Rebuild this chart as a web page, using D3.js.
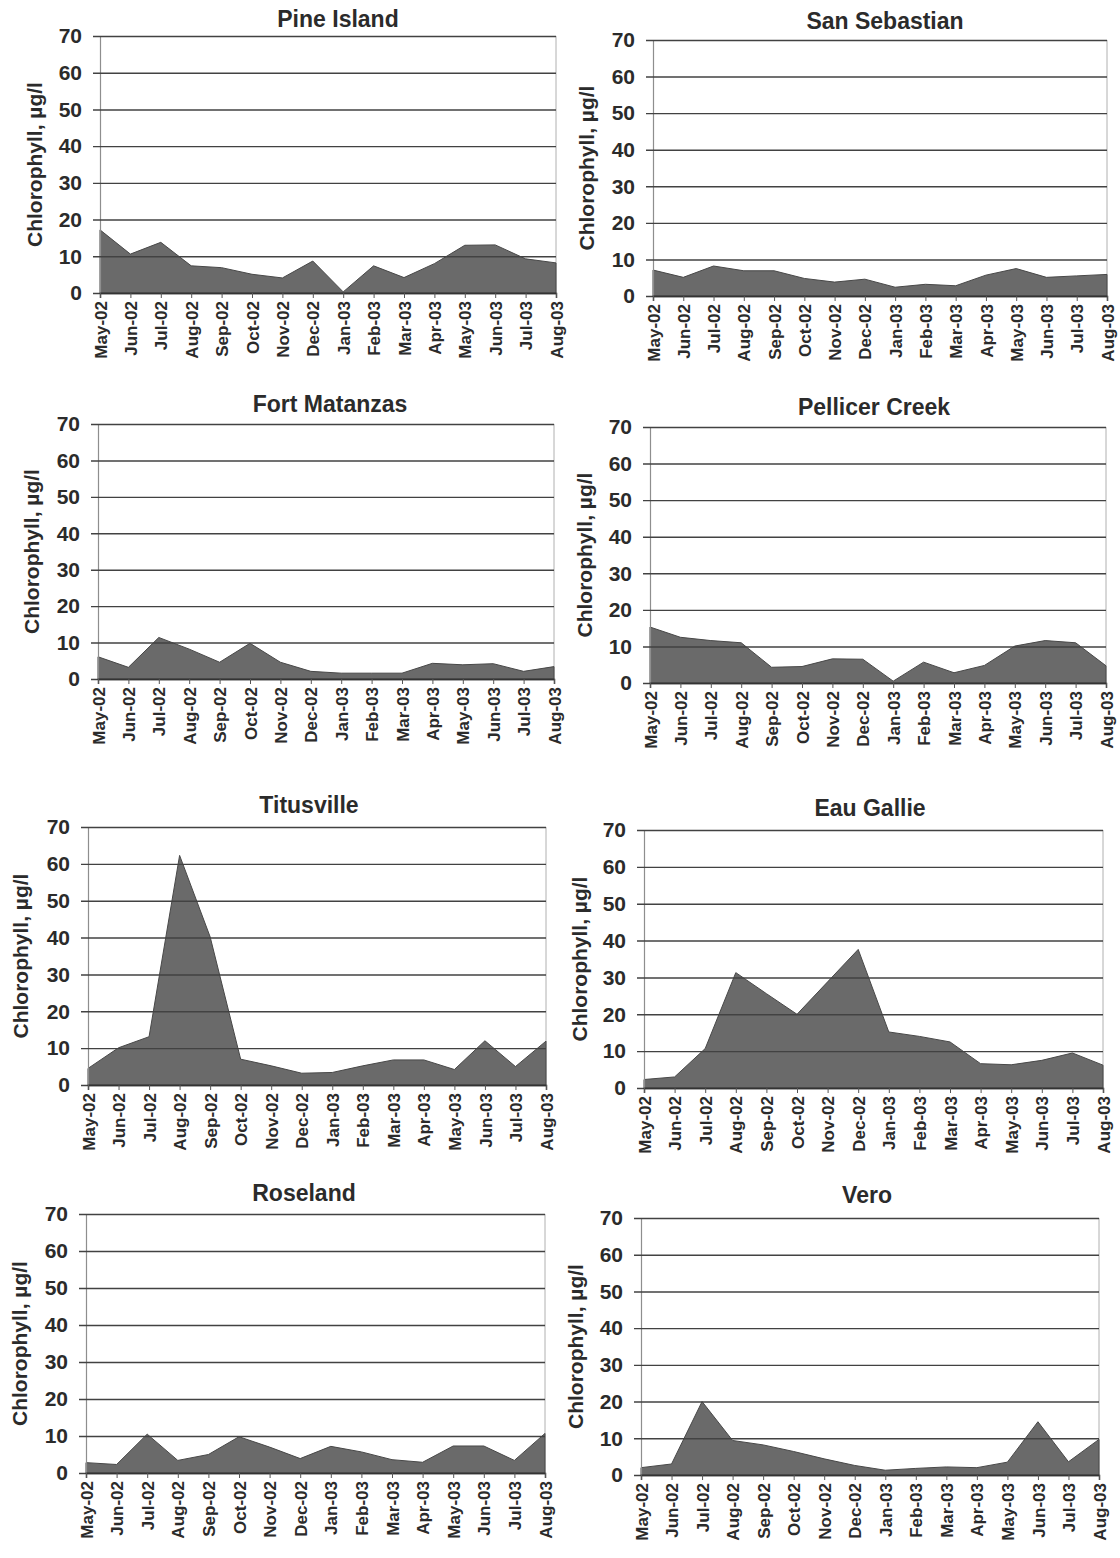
<!DOCTYPE html>
<html>
<head>
<meta charset="utf-8">
<script src="https://cdn.jsdelivr.net/npm/d3@7"></script>
<style>
  html, body { margin: 0; padding: 0; background: #fff; }
  svg { display: block; }
  text { font-family: "Liberation Sans", Arial, Helvetica, sans-serif; font-weight: bold; fill: #2b2b2b; }
</style>
</head>
<body>
<svg id="chart" width="1120" height="1558"></svg>
<script>
// ---- data ----
const months = ["May-02","Jun-02","Jul-02","Aug-02","Sep-02","Oct-02","Nov-02","Dec-02",
                "Jan-03","Feb-03","Mar-03","Apr-03","May-03","Jun-03","Jul-03","Aug-03"];
const yTicks = [0, 10, 20, 30, 40, 50, 60, 70];
const stations = ["Pine Island","San Sebastian","Fort Matanzas","Pellicer Creek",
                  "Titusville","Eau Gallie","Roseland","Vero"];
const pineIsland    = [17.2,10.6,13.8,7.4,6.9,5.1,4.1,8.7,0.3,7.4,4.2,8.0,13.0,13.1,9.3,8.2];
const sanSebastian  = [7.1,5.1,8.2,6.9,6.9,4.8,3.8,4.6,2.4,3.2,2.8,5.7,7.5,5.1,5.5,5.9];
const fortMatanzas  = [6.1,3.2,11.4,8.2,4.6,9.8,4.6,2.1,1.6,1.6,1.6,4.3,3.9,4.2,2.1,3.4];
const pellicerCreek = [15.3,12.5,11.6,11.0,4.3,4.5,6.6,6.5,0.5,5.7,2.8,4.8,10.1,11.6,11.0,4.7];
const titusville    = [4.5,10.1,13.1,62.3,40.2,7.0,5.2,3.2,3.4,5.2,6.8,6.8,4.2,12.0,5.0,11.9];
const eauGallie     = [2.3,3.0,10.7,31.3,25.6,20.0,28.8,37.6,15.2,14.0,12.5,6.6,6.3,7.5,9.5,6.2];
const roseland      = [2.8,2.3,10.5,3.4,5.0,9.8,7.0,3.9,7.2,5.7,3.6,2.9,7.3,7.3,3.4,10.7];
const vero          = [2.0,3.0,20.0,9.4,8.2,6.4,4.4,2.6,1.3,1.8,2.2,2.0,3.5,14.5,3.6,9.7];
const seriesValues = [pineIsland, sanSebastian, fortMatanzas, pellicerCreek,
                      titusville, eauGallie, roseland, vero];
const yTitle = "Chlorophyll, \u00b5g/l";

// ---- layout (positions only) ----
const layout = [
  {L: 100, R: 556,  T: 36,   B: 293,  tx: 338, ty: 27,   yx: 35},
  {L: 653, R: 1107, T: 40,   B: 296,  tx: 885, ty: 29,   yx: 587},
  {L: 98,  R: 554,  T: 424,  B: 679,  tx: 330, ty: 412,  yx: 32},
  {L: 650, R: 1106, T: 427,  B: 683,  tx: 874, ty: 415,  yx: 585},
  {L: 88,  R: 546,  T: 827,  B: 1085, tx: 309, ty: 813,  yx: 21},
  {L: 644, R: 1103, T: 830,  B: 1088, tx: 870, ty: 816,  yx: 580},
  {L: 86,  R: 545,  T: 1214, B: 1473, tx: 304, ty: 1201, yx: 20},
  {L: 641, R: 1099, T: 1218, B: 1475, tx: 867, ty: 1203, yx: 576}
];

const svg = d3.select("#chart");

stations.forEach((name, i) => {
  const p = layout[i];
  const vals = seriesValues[i];
  const data = months.map((m, j) => ({m, v: vals[j]}));

  const x = d3.scalePoint().domain(months).range([p.L, p.R]).padding(0);
  const y = d3.scaleLinear().domain([0, 70]).range([p.B, p.T]);

  const g = svg.append("g");

  // right border
  g.append("line").attr("x1", p.R).attr("x2", p.R).attr("y1", p.T).attr("y2", p.B)
    .attr("stroke", "#b0b0b0").attr("stroke-width", 1);

  // area
  const area = d3.area().x(d => x(d.m)).y0(y(0)).y1(d => y(d.v));
  g.append("path").datum(data).attr("d", area)
    .attr("fill", "#6a6a6a").attr("stroke", "#484848").attr("stroke-width", 1);

  // y axis with gridlines
  const ya = g.append("g").attr("transform", `translate(${p.L},0)`)
    .call(d3.axisLeft(y).tickValues(yTicks).tickSize(-(p.R - p.L)).tickPadding(18));
  ya.select(".domain").attr("stroke", "#8e8e8e").attr("stroke-width", 1.2);
  ya.selectAll(".tick line").attr("x1", -7)
    .attr("stroke", "#424242").attr("stroke-width", 1.4);
  ya.selectAll(".tick text").attr("font-size", 21).attr("fill", "#2b2b2b")
    .attr("font-family", "Liberation Sans, Arial, sans-serif").attr("font-weight", "bold");

  // x axis
  const xa = g.append("g").attr("transform", `translate(0,${p.B})`)
    .call(d3.axisBottom(x).tickSize(5).tickPadding(0));
  xa.select(".domain").attr("stroke", "#333").attr("stroke-width", 1.5);
  xa.selectAll(".tick line").attr("stroke", "#555");
  xa.selectAll(".tick text")
    .attr("font-size", 17).attr("fill", "#2b2b2b")
    .attr("font-family", "Liberation Sans, Arial, sans-serif").attr("font-weight", "bold")
    .attr("text-anchor", "end")
    .attr("transform", "rotate(-90)")
    .attr("x", -8).attr("y", 0).attr("dy", "0.36em");

  // title
  g.append("text").attr("x", p.tx).attr("y", p.ty).attr("text-anchor", "middle")
    .attr("font-size", 23).text(name);

  // y title
  g.append("text")
    .attr("transform", `translate(${p.yx},${(p.T + p.B) / 2}) rotate(-90)`)
    .attr("text-anchor", "middle").attr("dy", "0.35em")
    .attr("font-size", 21).text(yTitle);
});
</script>
</body>
</html>
